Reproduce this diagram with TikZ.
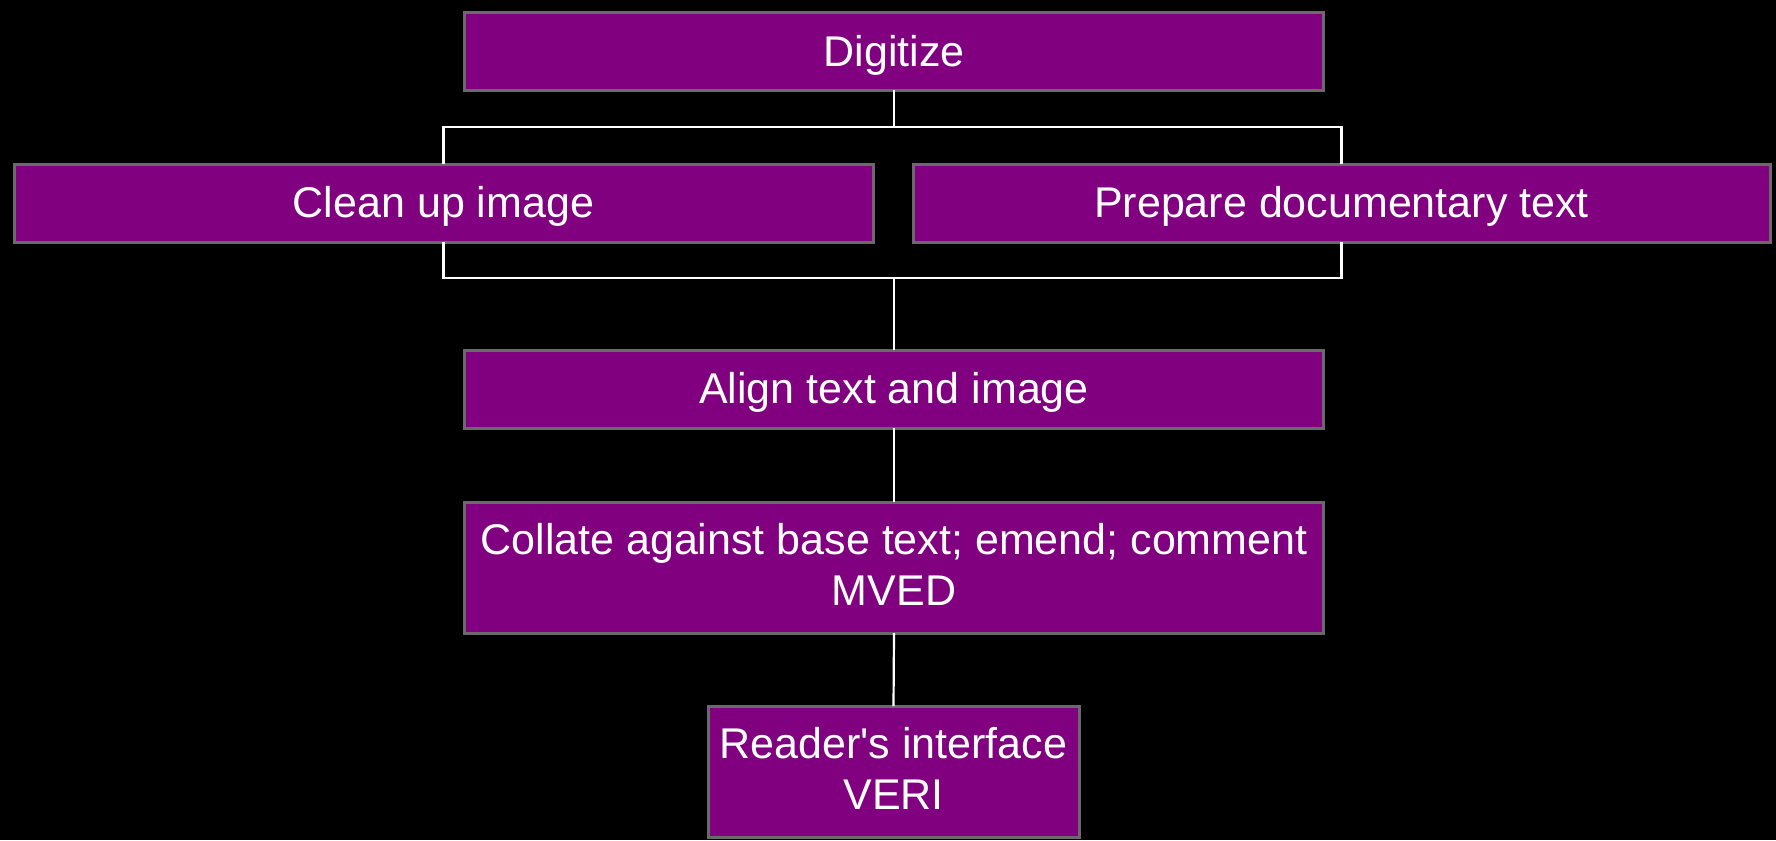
\documentclass[tikz,border=0pt]{standalone}
\usepackage{fontspec}
\setmainfont{Liberation Sans}[Ligatures=TeXOff]
\newcommand{\lowr}[2]{\raisebox{-#1}[\height][\depth]{#2}}
\begin{document}
\begin{tikzpicture}[x=1pt,y=-1pt,
  box/.style={draw=boxgray, line width=3pt, fill=boxpurple, text=white,
    font=\fontsize{43}{51.6}\selectfont, align=center, inner sep=0pt,
    outer sep=0pt, minimum width=859pt, minimum height=78pt},
  conn/.style={draw=white, line width=2.2pt}]
\definecolor{boxpurple}{HTML}{800080}
\definecolor{boxgray}{HTML}{6A6A6A}
\fill[black] (0,0) rectangle (1776,840);
\useasboundingbox (0,0) rectangle (1776,840);
\coordinate (tbar) at (0,127);
\coordinate (bbar) at (0,278);
\node[box] (dig) at (894,51.5) {\lowr{3.5pt}{Digitize}};
\node[box] (clean) at (443.5,203) {\lowr{3.5pt}{Clean up image}};
\node[box, minimum width=857pt] (prep) at (1341.5,203) {\lowr{3.5pt}{Prepare documentary text}};
\node[box] (align) at (894,389) {\lowr{3.5pt}{Align text and image}};
\node[box, minimum height=131pt] (coll) at (894,567.5) {\lowr{2pt}{\begin{tabular}{@{}c@{}}Collate against base text; emend; comment\\MVED\end{tabular}}};
\node[box, minimum width=371pt, minimum height=131pt] (read) at (893.5,771.5) {\lowr{2pt}{\begin{tabular}{@{}c@{}}Reader's interface\\VERI\end{tabular}}};
\draw[conn] (dig.south) -- (dig.south |- tbar);
\draw[conn] (clean.north) -- (clean.north |- tbar) -- (prep.north |- tbar) -- (prep.north);
\draw[conn] (clean.south) -- (clean.south |- bbar) -- (prep.south |- bbar) -- (prep.south);
\draw[conn] (align.north) -- (align.north |- bbar);
\draw[conn] (align.south) -- (coll.north);
\draw[conn] (coll.south) -- (read.north);
\end{tikzpicture}
\end{document}
